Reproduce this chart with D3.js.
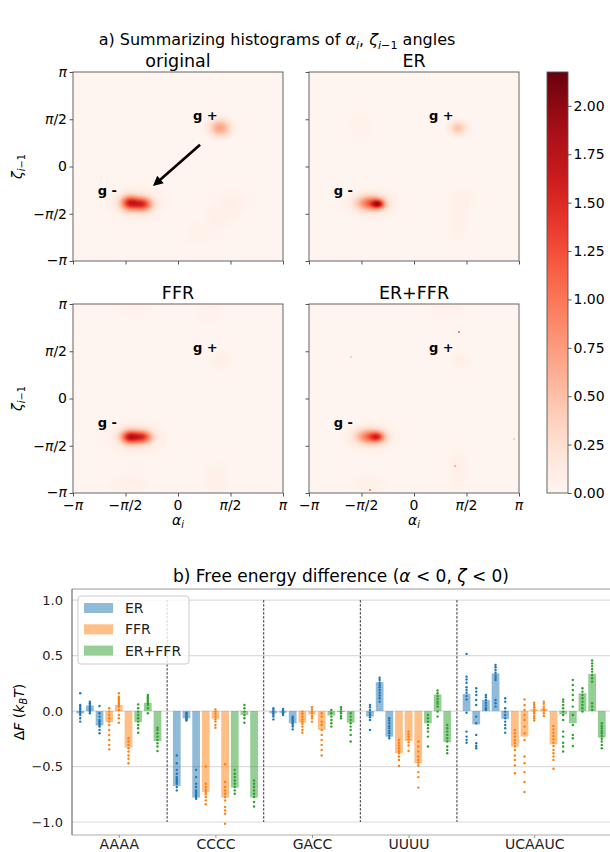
<!DOCTYPE html>
<html>
<head>
<meta charset="utf-8">
<script src="https://cdn.jsdelivr.net/npm/d3@7"></script>
<style>
  body { margin: 0; background: #fff; }
  text { font-family: "DejaVu Sans", sans-serif; }
</style>
</head>
<body>
<svg id="fig" width="610" height="852"></svg>
<script>
const PI = Math.PI;

// ---- part a) histogram data ----
const angleTicks = [-PI, -PI / 2, 0, PI / 2, PI];
const angleTickLabels = ['−π', '−π/2', '0', 'π/2', 'π'];
const panelNames = ['original', 'ER', 'FFR', 'ER+FFR'];
const colorMax = 2.175;
const colorbarTicks = [0, 0.25, 0.5, 0.75, 1.0, 1.25, 1.5, 1.75, 2.0];

// density blobs: [alpha, zeta, spread alpha, spread zeta, peak]
const blobsOriginal = [
  [-1.44, -1.21, 0.18, 0.16, 1.30],
  [-1.06, -1.25, 0.19, 0.15, 1.20],
  [-1.25, -1.25, 0.45, 0.30, 0.25],
  [1.26, 1.28, 0.22, 0.20, 0.70],
  [1.65, -1.21, 0.30, 0.30, 0.07],
  [1.21, -1.71, 0.30, 0.30, 0.06],
  [0.57, -2.28, 0.30, 0.30, 0.05]
];
const blobsER = [
  [-1.08, -1.25, 0.13, 0.10, 1.15],
  [-1.30, -1.22, 0.28, 0.17, 1.00],
  [-1.25, -1.25, 0.45, 0.30, 0.12],
  [1.32, 1.28, 0.17, 0.16, 0.48],
  [-1.60, 1.35, 0.30, 0.30, 0.05],
  [1.45, -1.10, 0.30, 0.30, 0.06],
  [1.32, -1.90, 0.18, 0.45, 0.06]
];
const blobsFFR = [
  [-1.44, -1.28, 0.18, 0.15, 1.40],
  [-1.06, -1.28, 0.19, 0.14, 1.15],
  [-1.25, -1.30, 0.45, 0.30, 0.25],
  [1.30, 1.25, 0.25, 0.20, 0.08],
  [-1.44, -2.85, 0.40, 0.28, 0.07],
  [1.15, -2.70, 0.28, 0.40, 0.07],
  [-1.30, 3.05, 0.40, 0.20, 0.06],
  [0.90, 2.90, 0.30, 0.30, 0.05]
];
const blobsBoth = [
  [-1.10, -1.28, 0.14, 0.11, 0.80],
  [-1.32, -1.27, 0.28, 0.17, 0.95],
  [-1.25, -1.28, 0.45, 0.30, 0.12],
  [1.38, 1.25, 0.20, 0.17, 0.09],
  [-1.32, -2.85, 0.35, 0.28, 0.07],
  [1.32, -2.40, 0.18, 0.45, 0.08],
  [1.00, 3.00, 0.40, 0.28, 0.05]
];
// isolated bins: [alpha, zeta, value]
const specksBoth = [[1.32, 2.24, 0.9], [-1.35, -3.0, 0.9], [1.2, -2.2, 0.6], [-1.9, 1.4, 0.4], [2.95, -1.3, 0.4]];

const gPlusLabel = [0.45, 1.55];
const gMinusLabel = [-2.4, -0.95];
const arrowStart = [0.66, 0.72];
const arrowEnd = [-0.75, -0.65];

// ---- part b) free energy data ----
const sequences = ['AAAA', 'CCCC', 'GACC', 'UUUU', 'UCAAUC'];
const steps = [3, 3, 3, 3, 5];
const methods = ['ER', 'FFR', 'ER+FFR'];
const methodColors = ['#1f77b4', '#ff7f0e', '#2ca02c'];
const yTicksB = [-1.0, -0.5, 0.0, 0.5, 1.0];

const meanER = [-0.02, 0.05, -0.13, -0.675, -0.065, -0.78, -0.02, -0.015, -0.11, -0.05, 0.26, -0.23, 0.155, -0.12, 0.10, 0.34, -0.07];
const meanFFR = [-0.10, 0.055, -0.33, -0.73, -0.07, -0.78, -0.105, -0.03, -0.17, -0.38, -0.27, -0.47, -0.32, -0.23, 0.015, 0.02, -0.30];
const meanBoth = [-0.10, 0.075, -0.27, -0.69, -0.035, -0.78, -0.04, -0.01, -0.105, -0.11, 0.15, -0.28, -0.03, -0.11, 0.16, 0.335, -0.24];

const dotsER = [
  [0.16, 0.055, 0.04, 0.025, 0.01, -0.005, -0.02, -0.035, -0.065, -0.095],
  [0.085, 0.07, 0.055, 0.04, 0.025, 0.01, -0.005, -0.02],
  [0.045, -0.02, -0.05, -0.08, -0.095, -0.11, -0.125, -0.14, -0.17, -0.2],
  [-0.40, -0.47, -0.53, -0.565, -0.595, -0.61, -0.625, -0.64, -0.655, -0.685, -0.715],
  [-0.015, -0.025, -0.04, -0.05, -0.065, -0.075, -0.085],
  [-0.53, -0.595, -0.655, -0.685, -0.715, -0.73, -0.745, -0.76, -0.775, -0.79],
  [0.025, 0.01, -0.005, -0.02, -0.035, -0.05, -0.075],
  [0.02, 0.005, -0.01, -0.02, -0.035],
  [-0.05, -0.065, -0.08, -0.095, -0.11, -0.125, -0.14, -0.165],
  [0.055, 0.035, 0.01, -0.015, -0.035, -0.055, -0.08, -0.17],
  [0.30, 0.28, 0.255, 0.235, 0.215, 0.19, 0.165, 0.14, 0.115, 0.085],
  [-0.065, -0.085, -0.11, -0.135, -0.155, -0.18, -0.20, -0.225, -0.245],
  [0.515, 0.31, 0.285, 0.255, 0.215, 0.19, 0.165, 0.135, 0.105, -0.015, -0.185, -0.23, -0.26, -0.285],
  [0.205, 0.175, 0.145, 0.10, 0.055, -0.05, -0.11, -0.215, -0.29, -0.315, -0.335],
  [0.145, 0.125, 0.10, 0.075, 0.05, 0.025, 0.01],
  [0.415, 0.395, 0.37, 0.345, 0.32, 0.30, 0.28, 0.10, 0.07, 0.04],
  [0.115, 0.085, 0.025, -0.005, -0.035, -0.065, -0.095, -0.125, -0.155, -0.195]
];
const dotsFFR = [
  [0.025, -0.005, -0.035, -0.065, -0.095, -0.125, -0.17, -0.215, -0.26, -0.305, -0.345],
  [0.16, 0.13, 0.115, 0.10, 0.085, 0.07, 0.055, 0.04, 0.01, -0.035, -0.065, -0.105],
  [-0.245, -0.275, -0.305, -0.335, -0.365, -0.40, -0.43, -0.47],
  [-0.50, -0.655, -0.685, -0.71, -0.73, -0.75, -0.775, -0.805, -0.84],
  [0.015, -0.005, -0.025, -0.05, -0.075, -0.095, -0.125, -0.15],
  [-0.48, -0.64, -0.685, -0.715, -0.745, -0.775, -0.805, -0.865, -0.895, -0.925, -1.015],
  [-0.005, -0.025, -0.05, -0.075, -0.095, -0.115, -0.14, -0.17, -0.195],
  [0.035, 0.015, -0.005, -0.02, -0.045, -0.065, -0.095],
  [-0.02, -0.05, -0.095, -0.125, -0.17, -0.215, -0.26, -0.305, -0.35, -0.40],
  [-0.26, -0.285, -0.31, -0.335, -0.36, -0.38, -0.41, -0.44, -0.495],
  [-0.185, -0.21, -0.23, -0.255, -0.28, -0.31, -0.36],
  [-0.275, -0.32, -0.365, -0.41, -0.44, -0.465, -0.49, -0.55, -0.595, -0.69],
  [-0.17, -0.20, -0.23, -0.26, -0.29, -0.32, -0.35, -0.40, -0.44, -0.49, -0.56],
  [0.105, 0.055, 0.01, -0.035, -0.08, -0.14, -0.20, -0.26, -0.41, -0.47, -0.55, -0.64, -0.73],
  [0.075, 0.055, 0.035, 0.015, -0.005, -0.02, -0.045, -0.065, -0.085],
  [0.085, 0.065, 0.04, 0.02, 0.005, -0.02, -0.045],
  [-0.135, -0.165, -0.195, -0.225, -0.255, -0.285, -0.315, -0.35, -0.38, -0.41, -0.44, -0.52]
];
const dotsBoth = [
  [0.06, 0.025, -0.005, -0.035, -0.065, -0.095, -0.125, -0.155, -0.195],
  [0.145, 0.13, 0.115, 0.10, 0.085, 0.07, 0.055, 0.025, -0.02],
  [-0.15, -0.17, -0.20, -0.23, -0.26, -0.29, -0.32, -0.36],
  [-0.53, -0.565, -0.595, -0.625, -0.655, -0.685, -0.715, -0.745],
  [0.055, 0.025, -0.005, -0.035, -0.065, -0.105],
  [-0.625, -0.655, -0.685, -0.715, -0.745, -0.775, -0.82, -0.86],
  [0.01, -0.02, -0.05, -0.08, -0.11, -0.14],
  [0.035, 0.015, -0.005, -0.02, -0.045, -0.065],
  [-0.02, -0.05, -0.08, -0.11, -0.14, -0.17, -0.215, -0.275],
  [-0.035, -0.065, -0.095, -0.125, -0.155, -0.185, -0.23, -0.32],
  [0.185, 0.16, 0.135, 0.11, 0.085, 0.065, 0.04, -0.005, -0.05],
  [-0.125, -0.155, -0.185, -0.215, -0.245, -0.275, -0.32, -0.35, -0.38],
  [0.105, 0.085, 0.055, 0.025, -0.005, -0.035, -0.08, -0.185, -0.23, -0.285, -0.32, -0.365],
  [0.28, 0.235, 0.19, 0.145, 0.10, 0.04, -0.035, -0.125, -0.215, -0.245, -0.315],
  [0.205, 0.175, 0.145, 0.115, 0.085, 0.055, 0.025, -0.005],
  [0.455, 0.43, 0.405, 0.38, 0.355, 0.325, 0.295, 0.265, 0.07, 0.04, 0.01],
  [-0.11, -0.135, -0.155, -0.18, -0.20, -0.225, -0.25, -0.275, -0.305, -0.335]
];

const svg = d3.select('#fig');
const frameColor = '#555';

// write text built from pieces: {t, it: italic, sub: subscript}
function richText(sel, parts, subShift) {
  let down = false;
  parts.forEach(p => {
    const ts = sel.append('tspan').text(p.t);
    if (p.it) ts.attr('font-style', 'italic');
    if (p.sub) {
      ts.attr('font-size', '0.7em');
      if (!down) { ts.attr('dy', subShift); down = true; }
    } else if (down) {
      ts.attr('dy', -subShift); down = false;
    }
  });
  return sel;
}
function piParts(label) {
  return label.split(/(π)/).filter(s => s !== '').map(s => ({ t: s, it: s === 'π' }));
}

// ---------------- part a ----------------
richText(svg.append('text').attr('x', 277).attr('y', 45).attr('text-anchor', 'middle').attr('font-size', 16), [
  { t: 'a) Summarizing histograms of ' }, { t: 'α', it: 1 }, { t: 'i', it: 1, sub: 1 },
  { t: ', ' }, { t: 'ζ', it: 1 }, { t: 'i', it: 1, sub: 1 }, { t: '−1', sub: 1 }, { t: ' angles' }
], 4);

const PW = 210, PH = 189;
const heatColor = d3.scaleSequential(d3.interpolateReds).domain([0, colorMax]).clamp(true);

const panels = [
  { x: 73, y: 72, blobs: blobsOriginal, specks: [], left: true, bottom: false, arrow: true },
  { x: 309, y: 72, blobs: blobsER, specks: [], left: false, bottom: false },
  { x: 73, y: 304, blobs: blobsFFR, specks: [], left: true, bottom: true },
  { x: 309, y: 304, blobs: blobsBoth, specks: specksBoth, left: false, bottom: true }
];

panels.forEach((p, pi) => {
  const xs = d3.scaleLinear().domain([-PI, PI]).range([p.x, p.x + PW]);
  const ys = d3.scaleLinear().domain([-PI, PI]).range([p.y + PH, p.y]);

  const canvas = document.createElement('canvas');
  canvas.width = PW; canvas.height = PH;
  const ctx = canvas.getContext('2d');
  const img = ctx.createImageData(PW, PH);
  for (let j = 0; j < PH; j++) {
    for (let i = 0; i < PW; i++) {
      const a = xs.invert(p.x + i + 0.5), z = ys.invert(p.y + j + 0.5);
      let v = 0;
      for (const [ca, cz, sa, sz, pk] of p.blobs) {
        v += pk * Math.exp(-((a - ca) ** 2 / (2 * sa * sa) + (z - cz) ** 2 / (2 * sz * sz)));
      }
      const c = d3.rgb(heatColor(v));
      const k = 4 * (j * PW + i);
      img.data[k] = c.r; img.data[k + 1] = c.g; img.data[k + 2] = c.b; img.data[k + 3] = 255;
    }
  }
  ctx.putImageData(img, 0, 0);
  p.specks.forEach(([a, z, v]) => {
    ctx.fillStyle = heatColor(v);
    ctx.fillRect(Math.round(xs(a) - p.x), Math.round(ys(z) - p.y), 2, 2);
  });
  svg.append('image')
    .attr('href', canvas.toDataURL())
    .attr('x', p.x).attr('y', p.y).attr('width', PW).attr('height', PH)
    .attr('preserveAspectRatio', 'none');

  svg.append('rect').attr('x', p.x).attr('y', p.y).attr('width', PW).attr('height', PH)
    .attr('fill', 'none').attr('stroke', frameColor).attr('stroke-width', 0.9);

  // ticks
  const gx = svg.append('g').attr('transform', `translate(0,${p.y + PH})`)
    .call(d3.axisBottom(xs).tickValues(angleTicks).tickSize(3.5).tickFormat(''));
  const gy = svg.append('g').attr('transform', `translate(${p.x},0)`)
    .call(d3.axisLeft(ys).tickValues(angleTicks).tickSize(3.5).tickFormat(''));
  [gx, gy].forEach(g => { g.select('.domain').remove(); g.selectAll('line').attr('stroke', frameColor); });

  if (p.bottom) {
    angleTicks.forEach((t, k) => {
      richText(svg.append('text').attr('x', xs(t)).attr('y', p.y + PH + 17)
        .attr('text-anchor', 'middle').attr('font-size', 14), piParts(angleTickLabels[k]), 0);
    });
    richText(svg.append('text').attr('x', p.x + PW / 2).attr('y', p.y + PH + 32)
      .attr('text-anchor', 'middle').attr('font-size', 14), [{ t: 'α', it: 1 }, { t: 'i', it: 1, sub: 1 }], 3);
  }
  if (p.left) {
    angleTicks.forEach((t, k) => {
      richText(svg.append('text').attr('x', p.x - 6).attr('y', ys(t)).attr('dy', k === 0 ? '0.25em' : '0.35em')
        .attr('text-anchor', 'end').attr('font-size', 14), piParts(angleTickLabels[k]), 0);
    });
    richText(svg.append('text').attr('transform', `translate(22,${p.y + PH / 2}) rotate(-90)`)
      .attr('text-anchor', 'middle').attr('font-size', 14),
      [{ t: 'ζ', it: 1 }, { t: 'i', it: 1, sub: 1 }, { t: '−1', sub: 1 }], 3);
  }

  svg.append('text').attr('x', p.x + PW / 2).attr('y', p.y - 5).attr('text-anchor', 'middle')
    .attr('font-size', 17.5).text(panelNames[pi]);

  svg.append('text').attr('x', xs(gPlusLabel[0])).attr('y', ys(gPlusLabel[1]))
    .attr('font-size', 13).attr('font-weight', 'bold').text('g +');
  svg.append('text').attr('x', xs(gMinusLabel[0])).attr('y', ys(gMinusLabel[1]))
    .attr('font-size', 13).attr('font-weight', 'bold').text('g -');

  if (p.arrow) {
    const x1 = xs(arrowStart[0]), y1 = ys(arrowStart[1]);
    const x2 = xs(arrowEnd[0]), y2 = ys(arrowEnd[1]);
    const ang = Math.atan2(y2 - y1, x2 - x1);
    const len = Math.hypot(x2 - x1, y2 - y1);
    const hl = 10, hw = 5, sw = 1.3;
    const pts = [[0, -sw], [len - hl, -sw], [len - hl, -hw], [len, 0], [len - hl, hw], [len - hl, sw], [0, sw]];
    svg.append('polygon')
      .attr('points', pts.map(q => q.join(',')).join(' '))
      .attr('transform', `translate(${x1},${y1}) rotate(${ang * 180 / PI})`)
      .attr('fill', '#000');
  }
});

// colorbar
const cbX = 547, cbW = 21, cbTop = 72, cbBot = 493;
const cbScale = d3.scaleLinear().domain([0, colorMax]).range([cbBot, cbTop]);
const grad = svg.append('defs').append('linearGradient').attr('id', 'cb')
  .attr('x1', 0).attr('y1', 1).attr('x2', 0).attr('y2', 0);
grad.selectAll('stop').data(d3.range(0, 1.0001, 0.05)).enter().append('stop')
  .attr('offset', d => d * 100 + '%').attr('stop-color', d => heatColor(d * colorMax));
svg.append('rect').attr('x', cbX).attr('y', cbTop).attr('width', cbW).attr('height', cbBot - cbTop)
  .attr('fill', 'url(#cb)').attr('stroke', frameColor).attr('stroke-width', 0.9);
const gcb = svg.append('g').attr('transform', `translate(${cbX + cbW},0)`)
  .call(d3.axisRight(cbScale).tickValues(colorbarTicks).tickSize(3.5).tickPadding(2).tickFormat(d3.format('.2f')));
gcb.select('.domain').remove();
gcb.selectAll('line').attr('stroke', frameColor);
gcb.selectAll('text').attr('font-size', 14).attr('font-family', '"DejaVu Sans", sans-serif').attr('fill', '#000');

// ---------------- part b ----------------
const bLeft = 72, bRight = 610, bTop = 589, bBottom = 835;
// slot layout: bars of one sequence side by side, one empty slot between sequences
const bars = [];
const groupInfo = [];
let offset = 0, flat = 0;
sequences.forEach((s, si) => {
  const n = steps[si];
  const means = [meanER, meanFFR, meanBoth];
  const dots = [dotsER, dotsFFR, dotsBoth];
  methods.forEach((m, mi) => {
    for (let k = 0; k < n; k++) {
      bars.push({ slot: offset + mi * n + k, value: means[mi][flat + k], dots: dots[mi][flat + k], method: mi });
    }
  });
  groupInfo.push({ name: s, center: offset + (3 * n - 1) / 2, sep: offset + 3 * n });
  offset += 3 * n + 1;
  flat += n;
});

const bx = d3.scaleLinear().domain([-0.85, 54.85]).range([bLeft, bRight]);
const by = d3.scaleLinear().domain([-1.117, 1.1]).range([bBottom, bTop]);
const bw = (bx(1) - bx(0)) * 0.8;

richText(svg.append('text').attr('x', (bLeft + bRight) / 2).attr('y', 582).attr('text-anchor', 'middle')
  .attr('font-size', 17), [{ t: 'b) Free energy difference (' }, { t: 'α', it: 1 }, { t: ' < 0, ' },
  { t: 'ζ', it: 1 }, { t: ' < 0)' }], 0);

// grid
svg.append('g').selectAll('line').data(yTicksB).enter().append('line')
  .attr('x1', bLeft).attr('x2', bRight).attr('y1', d => by(d)).attr('y2', d => by(d))
  .attr('stroke', '#dcdcdc').attr('stroke-width', 1.2);

// bars
svg.append('g').selectAll('rect').data(bars).enter().append('rect')
  .attr('x', d => bx(d.slot) - bw / 2)
  .attr('width', bw)
  .attr('y', d => by(Math.max(0, d.value)))
  .attr('height', d => Math.abs(by(d.value) - by(0)))
  .attr('fill', d => methodColors[d.method]).attr('fill-opacity', 0.5);

// points
const pts = [];
bars.forEach(b => b.dots.forEach(v => pts.push({ slot: b.slot, v, method: b.method })));
svg.append('g').selectAll('circle').data(pts).enter().append('circle')
  .attr('cx', d => bx(d.slot)).attr('cy', d => by(d.v)).attr('r', 1.2)
  .attr('fill', d => methodColors[d.method]);

// separators
groupInfo.slice(0, -1).forEach(g => {
  svg.append('line').attr('x1', bx(g.sep)).attr('x2', bx(g.sep)).attr('y1', by(1)).attr('y2', by(-1))
    .attr('stroke', '#333').attr('stroke-width', 1).attr('stroke-dasharray', '2.5,1.5');
});

// spines
svg.append('line').attr('x1', bLeft).attr('x2', bRight).attr('y1', bTop).attr('y2', bTop)
  .attr('stroke', '#999').attr('stroke-width', 1);
svg.append('line').attr('x1', bLeft).attr('x2', bRight).attr('y1', bBottom).attr('y2', bBottom)
  .attr('stroke', '#c8c8c8').attr('stroke-width', 1.6);
svg.append('line').attr('x1', bLeft).attr('x2', bLeft).attr('y1', bTop).attr('y2', bBottom)
  .attr('stroke', '#555').attr('stroke-width', 1);

// y ticks
const gyb = svg.append('g').attr('transform', `translate(${bLeft},0)`)
  .call(d3.axisLeft(by).tickValues(yTicksB).tickSize(0).tickPadding(9)
    .tickFormat(d => d3.format('.1f')(d).replace('-', '−')));
gyb.select('.domain').remove();
gyb.selectAll('text').attr('font-size', 13).attr('font-family', '"DejaVu Sans", sans-serif').attr('fill', '#222');

// x ticks
const gxb = svg.append('g').attr('transform', `translate(0,${bBottom})`)
  .call(d3.axisBottom(bx).tickValues(groupInfo.map(g => g.center)).tickSize(3).tickPadding(1)
    .tickFormat((d, i) => sequences[i]));
gxb.select('.domain').remove();
gxb.selectAll('line').attr('stroke', '#999');
gxb.selectAll('text').attr('font-size', 14).attr('font-family', '"DejaVu Sans", sans-serif').attr('fill', '#222');

richText(svg.append('text').attr('transform', `translate(24,${(bTop + bBottom) / 2}) rotate(-90)`)
  .attr('text-anchor', 'middle').attr('font-size', 14),
  [{ t: 'Δ' }, { t: 'F', it: 1 }, { t: ' (' }, { t: 'k', it: 1 }, { t: 'B', it: 1, sub: 1 }, { t: 'T', it: 1 }, { t: ')' }], 3);

// legend
const lg = svg.append('g');
lg.append('rect').attr('x', 78).attr('y', 596).attr('width', 111).attr('height', 68).attr('rx', 3)
  .attr('fill', '#fff').attr('fill-opacity', 0.8).attr('stroke', '#ccc');
methods.forEach((m, i) => {
  const cy = 608 + i * 21.3;
  lg.append('rect').attr('x', 84).attr('y', cy - 5).attr('width', 29).attr('height', 10)
    .attr('fill', methodColors[i]).attr('fill-opacity', 0.5);
  lg.append('text').attr('x', 125).attr('y', cy + 5).attr('font-size', 14).attr('fill', '#222').text(m);
});
</script>
</body>
</html>
